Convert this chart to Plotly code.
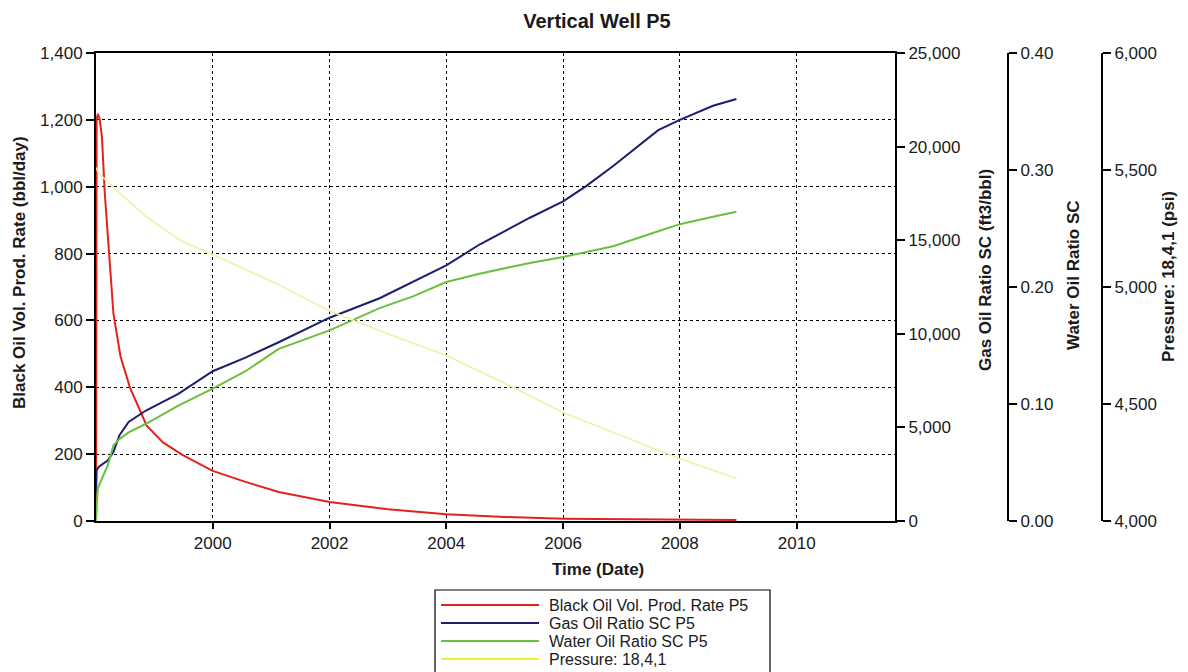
import plotly.graph_objects as go

# ---------------- data ----------------
oil_dates = ['1998-01-01', '1998-01-05', '1998-01-12', '1998-01-23', '1998-02-07', '1998-02-25',
             '1998-03-15', '1998-04-02', '1998-04-20', '1998-06-03', '1998-08-01', '1998-11-14',
             '1999-02-24', '1999-06-28', '2000-01-01', '2000-07-24', '2001-02-17', '2002-01-01',
             '2003-01-01', '2004-01-01', '2005-01-01', '2006-01-01', '2007-01-01', '2008-01-01',
             '2008-12-20']
oil_rate = [0, 1200, 1218, 1205, 1150, 980, 860, 740, 620, 493, 400, 285,
            235, 197, 150, 117, 87, 57, 35, 20, 12, 7, 5, 4, 3]

gor_dates = ['1998-01-01', '1998-01-05', '1998-01-19', '1998-03-15', '1998-04-20', '1998-05-27',
             '1998-07-24', '1998-11-07', '1999-02-17', '1999-05-31', '2000-01-01', '2000-07-24',
             '2001-02-17', '2002-01-01', '2002-11-10', '2004-01-01', '2004-07-27', '2005-06-07',
             '2006-01-01', '2006-05-27', '2006-11-10', '2007-08-19', '2008-01-01', '2008-07-27',
             '2008-12-20']
gas_oil_ratio = [1500, 2700, 2900, 3230, 3680, 4570, 5290, 5890, 6340, 6790, 8000, 8730,
                 9550, 10860, 11900, 13650, 14770, 16200, 17070, 17900, 18960, 20880, 21430,
                 22180, 22540]

wor_dates = ['1998-01-01', '1998-01-12', '1998-02-07', '1998-03-15', '1998-04-20', '1998-05-27',
             '1998-07-24', '1998-11-07', '1999-05-31', '2000-01-01', '2000-07-24', '2001-02-17',
             '2002-01-01', '2002-11-10', '2003-06-07', '2004-01-01', '2004-07-27', '2005-06-07',
             '2006-01-01', '2006-11-10', '2007-08-19', '2008-01-01', '2008-07-27', '2008-12-20']
water_oil_ratio = [0.000, 0.0277, 0.0363, 0.0474, 0.0646, 0.0700, 0.0757, 0.0829, 0.0986,
                   0.1131, 0.1280, 0.1471, 0.1629, 0.1820, 0.1920, 0.2043, 0.2114, 0.2206,
                   0.2257, 0.2349, 0.2477, 0.2537, 0.2600, 0.2643]

pres_dates = ['1998-01-01', '1998-01-19', '1998-04-20', '1998-11-14', '1999-06-10', '2000-01-01',
              '2001-02-17', '2002-01-01', '2003-01-01', '2004-01-01', '2005-03-15', '2006-01-01',
              '2007-01-01', '2008-01-01', '2008-12-20']
pressure = [5510, 5486, 5426, 5299, 5200, 5139, 5010, 4897, 4800, 4707, 4564, 4464,
            4364, 4266, 4183]

x_tick_vals = ['2000-01-01', '2002-01-01', '2004-01-01', '2006-01-01', '2008-01-01', '2010-01-01']
x_tick_text = ['2000', '2002', '2004', '2006', '2008', '2010']

series_names = ['Black Oil Vol. Prod. Rate P5', 'Gas Oil Ratio SC P5',
                'Water Oil Ratio SC P5', 'Pressure: 18,4,1']
series_colors = ['#e2231c', '#1b1f6e', '#6cbf3c', '#eeee70']

# ---------------- figure ----------------
# the page body has an 8px margin, so target page pixels are shifted by OFF
OFF = 8
FONT = 'Liberation Sans, Arial, sans-serif'
W, H = 1188 - OFF, 672 - OFF
PLOT_L, PLOT_R, PLOT_T, PLOT_B = 96, 895, 53, 521      # page pixels of the plot box
ML, MR = 0, 0
MT = PLOT_T - OFF
MB = H - (PLOT_B - OFF)
PW = W - ML - MR
PH = H - MT - MB


def px_x(px):
    return (px - OFF - ML) / PW


def px_y(py):
    return (H - MB - (py - OFF)) / PH


fig = go.Figure()
fig.add_trace(go.Scatter(x=pres_dates, y=pressure, yaxis='y4', mode='lines',
                         line=dict(color='#f0f0a8', width=1.6), name=series_names[3],
                         showlegend=False))
fig.add_trace(go.Scatter(x=wor_dates, y=water_oil_ratio, yaxis='y3', mode='lines',
                         line=dict(color=series_colors[2], width=2), name=series_names[2],
                         showlegend=False))
fig.add_trace(go.Scatter(x=gor_dates, y=gas_oil_ratio, yaxis='y2', mode='lines',
                         line=dict(color=series_colors[1], width=2), name=series_names[1],
                         showlegend=False))
fig.add_trace(go.Scatter(x=oil_dates, y=oil_rate, yaxis='y', mode='lines',
                         line=dict(color=series_colors[0], width=2), name=series_names[0],
                         showlegend=False))

tickfont = dict(family=FONT, size=17, color='#1a1a1a')
common_axis = dict(showline=True, linewidth=2, linecolor='black', ticks='outside',
                   tickcolor='black', tickwidth=1.5, tickfont=tickfont, zeroline=False,
                   automargin=False)

fig.update_layout(
    width=W, height=H,
    margin=dict(l=ML, r=MR, t=MT, b=MB, autoexpand=False),
    paper_bgcolor='white', plot_bgcolor='white',
    font=dict(family=FONT, color='#1a1a1a'),
    showlegend=False,
    title=dict(text='<b>Vertical Well P5</b>', x=(597 - OFF) / W, xanchor='center',
               y=1 - (21 - OFF) / H, yanchor='middle',
               font=dict(family=FONT, size=20, color='#1a1a1a')),
    xaxis=dict(domain=[px_x(PLOT_L), px_x(PLOT_R)], type='date',
               range=['1998-01-01', '2011-09-08'],
               tickvals=x_tick_vals, ticktext=x_tick_text, ticklen=6,
               showgrid=True, gridcolor='black', gridwidth=1.3, griddash='dot',
               mirror=True, **common_axis),
    yaxis=dict(domain=[0, 1], range=[0, 1400], dtick=200, tickformat=',d', ticklen=8,
               showgrid=True, gridcolor='black', gridwidth=1.3, griddash='dot',
               mirror=True, **common_axis),
    yaxis2=dict(overlaying='y', side='right', anchor='x', range=[0, 25000], dtick=5000,
                tickformat=',d', ticklen=8, showgrid=False, **common_axis),
    yaxis3=dict(overlaying='y', side='right', anchor='free', position=px_x(1008),
                range=[0, 0.4], dtick=0.1, tickformat='.2f', ticklen=8, showgrid=False,
                **common_axis),
    yaxis4=dict(overlaying='y', side='right', anchor='free', position=px_x(1102),
                range=[4000, 6000], dtick=500, tickformat=',d', ticklen=8, showgrid=False,
                **common_axis),
)

title_font = dict(family=FONT, size=17, color='#1a1a1a')
ann = [
    dict(text='<b>Black Oil Vol. Prod. Rate (bbl/day)</b>', x=px_x(19), y=px_y(273),
         textangle=-90),
    dict(text='<b>Gas Oil Ratio SC (ft3/bbl)</b>', x=px_x(985), y=px_y(270), textangle=-90),
    dict(text='<b>Water Oil Ratio SC</b>', x=px_x(1073), y=px_y(275), textangle=-90),
    dict(text='<b>Pressure: 18,4,1 (psi)</b>', x=px_x(1168), y=px_y(277), textangle=-90),
    dict(text='<b>Time (Date)</b>', x=px_x(598), y=px_y(569), textangle=0),
]
for a in ann:
    fig.add_annotation(xref='paper', yref='paper', showarrow=False, font=title_font,
                       xanchor='center', yanchor='middle', **a)

# custom legend box (wide line samples as in the reference)
fig.add_shape(type='rect', xref='paper', yref='paper', x0=px_x(435), x1=px_x(770),
              y0=px_y(590), y1=px_y(700), line=dict(color='black', width=1.2),
              fillcolor='white', layer='above')
row_y = [605, 623, 641, 659]
legend_colors = [series_colors[0], series_colors[1], series_colors[2], '#f2ee30']
for name, col, ry in zip(series_names, legend_colors, row_y):
    fig.add_shape(type='line', xref='paper', yref='paper', x0=px_x(441), x1=px_x(539),
                  y0=px_y(ry), y1=px_y(ry), line=dict(color=col, width=2), layer='above')
    fig.add_annotation(xref='paper', yref='paper', x=px_x(547), y=px_y(ry), text=name,
                       showarrow=False, xanchor='left', yanchor='middle',
                       font=dict(family=FONT, size=16, color='#1a1a1a'))

fig.write_html('out.html')
